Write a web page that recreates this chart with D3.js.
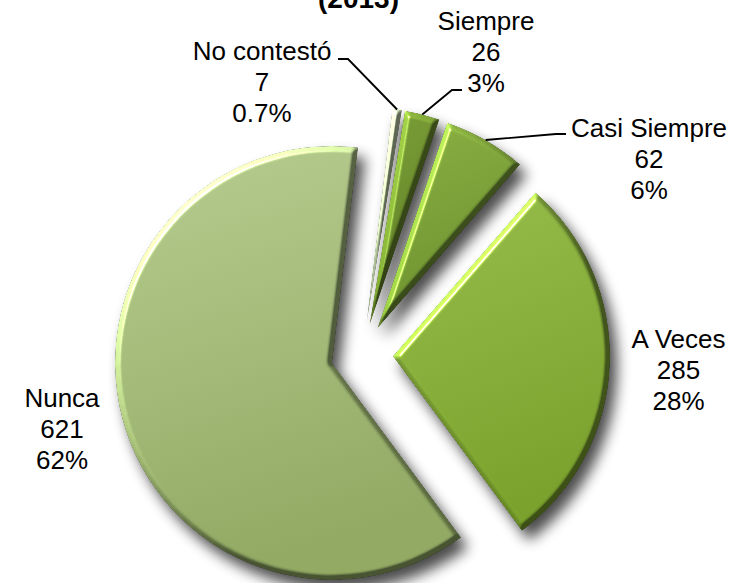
<!DOCTYPE html>
<html><head><meta charset="utf-8">
<script src="https://cdn.jsdelivr.net/npm/d3@7"></script>
<style>body{margin:0;background:#fff} svg{display:block}</style>
</head><body>
<svg id="chart" width="752" height="583"></svg>
<script>
// ---- data ----
const categories = ["Siempre", "Casi Siempre", "A Veces", "Nunca", "No contestó"];
const counts = [26, 62, 285, 621, 7];
const percentLabels = ["3%", "6%", "28%", "62%", "0.7%"];
const titleText = "(2013)";

// ---- layout / style ----
const W = 752, H = 583;
const cx = 362, cy = 355, R = 217, explode = 31;
const startDeg = 9.4;
const gradTop = ["#7c9f38", "#89ae42", "#96bd4b", "#b6cc90", "#c6d5b2"];
const gradBot = ["#5e7e24", "#6d922f", "#7aa12c", "#91a963", "#a8bb8f"];
const labelX = [486, 649, 678.5, 62, 262];
const labelY = [29.5, 136.5, 348, 407, 59.5];
const elbowPts = [[452, 90], [556, 134], null, null, [348, 59]];
const endPts = [[462, 90], [566, 134], null, null, [338, 59]];
const lineH = 31;

const svg = d3.select("#chart");
const defs = svg.append("defs");

// bevel filter
const f = defs.append("filter").attr("id", "bevel")
  .attr("x", "-10%").attr("y", "-10%").attr("width", "120%").attr("height", "120%")
  .attr("color-interpolation-filters", "sRGB");
f.append("feMorphology").attr("in", "SourceAlpha").attr("operator", "erode").attr("radius", 1.2).attr("result", "er");
f.append("feGaussianBlur").attr("in", "er").attr("stdDeviation", 2.2).attr("result", "b");
const dl = f.append("feDiffuseLighting").attr("in", "b").attr("surfaceScale", 5)
  .attr("diffuseConstant", 1).attr("lighting-color", "#ffffff").attr("result", "d");
dl.append("feDistantLight").attr("azimuth", 225).attr("elevation", 30);
f.append("feComposite").attr("in", "SourceGraphic").attr("in2", "d").attr("operator", "arithmetic")
  .attr("k1", 1).attr("k2", 0.5).attr("k3", 0).attr("k4", 0).attr("result", "shaded");
const sl = f.append("feSpecularLighting").attr("in", "b").attr("surfaceScale", 5)
  .attr("specularConstant", 1.1).attr("specularExponent", 40).attr("lighting-color", "#f4ffc0").attr("result", "s");
sl.append("feDistantLight").attr("azimuth", 225).attr("elevation", 30);
f.append("feComposite").attr("in", "s").attr("in2", "SourceAlpha").attr("operator", "in").attr("result", "sIn");
f.append("feComposite").attr("in", "shaded").attr("in2", "sIn").attr("operator", "arithmetic")
  .attr("k1", 0).attr("k2", 1).attr("k3", 1).attr("k4", 0).attr("result", "lit");
f.append("feComposite").attr("in", "lit").attr("in2", "SourceAlpha").attr("operator", "in");

// shadow filter
const sf = defs.append("filter").attr("id", "shadow")
  .attr("x", "-30%").attr("y", "-30%").attr("width", "160%").attr("height", "160%");
sf.append("feGaussianBlur").attr("in", "SourceGraphic").attr("stdDeviation", 7);

// gradients
categories.forEach((c, i) => {
  const g = defs.append("linearGradient").attr("id", "g" + i)
    .attr("x1", 0).attr("y1", 0).attr("x2", 0.25).attr("y2", 1);
  g.append("stop").attr("offset", "0%").attr("stop-color", gradTop[i]);
  g.append("stop").attr("offset", "100%").attr("stop-color", gradBot[i]);
});

const deg = Math.PI / 180;
const pie = d3.pie().sort(null).value(d => d)
  .startAngle(startDeg * deg).endAngle(startDeg * deg + 2 * Math.PI);
const arcs = pie(counts);
const arc = d3.arc().innerRadius(0).outerRadius(R);
const mid = a => (a.startAngle + a.endAngle) / 2;
const off = (a, r) => [cx + r * Math.sin(mid(a)), cy - r * Math.cos(mid(a))];

// shadows
svg.append("g").attr("filter", "url(#shadow)").attr("opacity", 0.7)
  .selectAll("path").data(arcs).join("path")
  .attr("transform", a => { const p = off(a, explode); return `translate(${p[0] + 7},${p[1] + 10})`; })
  .attr("d", arc).attr("fill", "#000");

// slices
svg.append("g").selectAll("path").data(arcs).join("path")
  .attr("transform", a => { const p = off(a, explode); return `translate(${p[0]},${p[1]})`; })
  .attr("d", arc)
  .attr("fill", (a, i) => `url(#g${i})`)
  .attr("filter", "url(#bevel)");

// leader lines
const lines = svg.append("g").attr("fill", "none").attr("stroke", "#000").attr("stroke-width", 1.8);
arcs.forEach((a, i) => {
  if (!elbowPts[i]) return;
  const s = off(a, explode + R);
  lines.append("path").attr("d", d3.line()([s, elbowPts[i], endPts[i]]));
});

// labels
const lab = svg.append("g").attr("font-family", "'Liberation Sans', Arial, sans-serif")
  .attr("font-size", 26).attr("fill", "#000").attr("text-anchor", "middle");
categories.forEach((c, i) => {
  const t = lab.append("text").attr("x", labelX[i]).attr("y", labelY[i]);
  [c, String(counts[i]), percentLabels[i]].forEach((s, k) => {
    t.append("tspan").attr("x", labelX[i]).attr("y", labelY[i] + k * lineH).text(s);
  });
});

// title (mostly clipped by top edge)
svg.append("text").attr("x", 358.5).attr("y", 8)
  .attr("font-family", "'Liberation Sans', Arial, sans-serif").attr("font-weight", "bold")
  .attr("font-size", 28).attr("text-anchor", "middle").text(titleText);
</script>
</body></html>
